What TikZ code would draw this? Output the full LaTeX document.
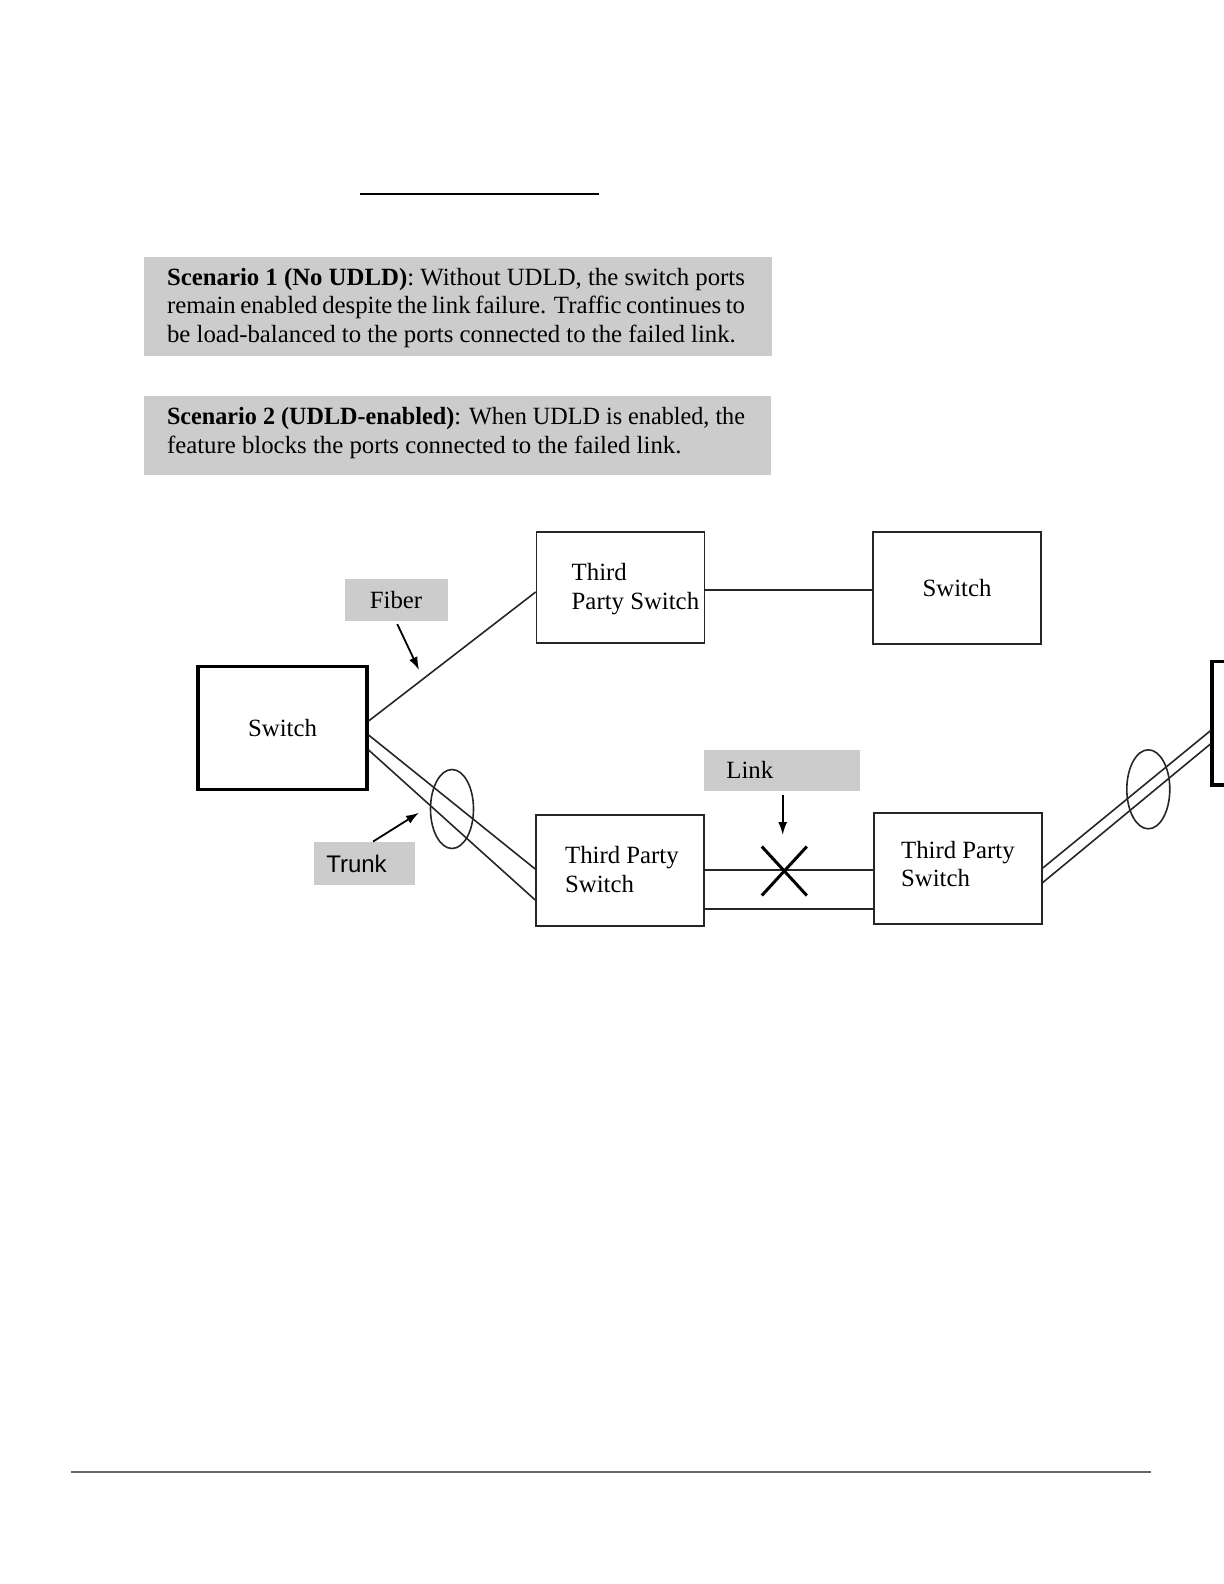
\documentclass[tikz,border=0pt]{standalone}
\usepackage{fontspec}
\setmainfont{Liberation Serif}
\newfontfamily\tagsans{Liberation Sans}
\usepackage{graphicx}
\usepackage{tikz}
\usetikzlibrary{arrows.meta}
\usetikzlibrary{calc}
\usetikzlibrary{shapes.geometric}

\begin{document}
\begin{tikzpicture}[x=0.5pt,y=-0.5pt,
		box/.style={draw=black!85,line width=0.8pt,inner sep=0pt,minimum width=84pt,minimum height=55.5pt},
		mainbox/.style={box,draw=black,line width=1.6pt,minimum width=84.5pt,minimum height=61.75pt},
		tag/.style={fill=black!20,inner sep=0pt},
		txt/.style={font=\fontsize{12.4}{14.2}\selectfont,inner sep=0pt,align=left},
		wire/.style={draw=black!85,line width=0.8pt},
		bundle/.style={ellipse,draw=black!85,line width=0.8pt,inner sep=0pt,minimum width=21.5pt,minimum height=39.5pt},
		pointer/.style={-{Latex[length=6.5pt,width=4.5pt]},line width=0.9pt}]
			\clip (0,0) rectangle (1224,1584);
			
			% header and footer rules
			\draw[line width=0.6pt] (360,194) -- (599,194);
			\draw[black!60,line width=1pt] (71,1471.5) -- (1151,1471.5);
			
			% scenario boxes
			\node[tag,anchor=north west,minimum width=314pt,minimum height=49.5pt] (sc1) at (144,256.5) {};
			\node[txt,anchor=west,text width=289pt,align=justify] (sc1txt) at (166.6,308)
			{\textbf{Scenario 1 (No UDLD)}: Without UDLD, the switch ports\linebreak
				remain enabled despite the link failure. Traffic continues to\linebreak
				be load-balanced to the ports connected to the failed link.};
			\node[tag,anchor=north west,minimum width=313.5pt,minimum height=39.5pt] (sc2) at (144,396) {};
			\node[txt,anchor=west] (sc2txt) at (166.6,433)
			{\resizebox{289pt}{\height}{\textbf{Scenario 2 (UDLD-enabled)}: When UDLD is enabled, the}\\
				feature blocks the ports connected to the failed link.};
			
			% switches
			\node[mainbox,font=\fontsize{12.4}{14.2}\selectfont] (sw) at (282.5,728) {Switch};
			\node[box] (tpa) at (620.5,587.5) {};
			\node[txt,anchor=west] (tpatxt) at ($(tpa.west)+(35.6,1.5)$) {Third\\Party Switch};
			\node[box,font=\fontsize{12.4}{14.2}\selectfont,minimum height=56pt] (swb) at (957,588) {Switch};
			\node[box] (tpb) at (620,870.5) {};
			\node[txt,anchor=west] (tpbtxt) at ($(tpb.west)+(29.5,-1)$) {Third Party\\Switch};
			\node[box] (tpc) at (958,868.5) {};
			\node[txt,anchor=west] (tpctxt) at ($(tpc.west)+(27.5,-4.5)$) {Third Party\\Switch};
			\node[mainbox] (swr) at (1296.5,723.25) {};
			
			% links
			\draw[wire] ($(sw.east)+(0,-7)$) -- ($(tpa.west)+(0,4.5)$);
			\draw[wire] ($(tpa.east)+(0,2.5)$) -- ($(swb.west)+(0,2)$);
			\draw[wire] ($(sw.east)+(0,7)$) -- ($(tpb.west)+(0,-1.5)$);
			\draw[wire] ($(sw.east)+(0,22)$) -- ($(tpb.west)+(0,29.5)$);
			\draw[wire] ($(tpb.east)+(0,-0.5)$) -- ($(tpc.west)+(0,1.5)$);
			\draw[wire] ($(tpb.east)+(0,38.5)$) -- ($(tpc.west)+(0,40.5)$);
			\draw[wire] ($(tpc.east)+(0,-0.5)$) -- ($(swr.west)+(0,7.5)$);
			\draw[wire] ($(tpc.east)+(0,14)$) -- ($(swr.west)+(0,20.75)$);
			
			% trunk bundles
			\node[bundle] (bunA) at (452,809) {};
			\node[bundle] (bunB) at (1148.3,789.3) {};
			
			% failed link
			\coordinate (cut) at (784.3,870.5);
			\draw[line width=1.5pt] ($(cut)+(-22.5,-24)$) -- ($(cut)+(22.5,25)$);
			\draw[line width=1.5pt] ($(cut)+(22.5,-24)$) -- ($(cut)+(-22.5,25)$);
			
			% labels
			\node[tag,minimum width=51.5pt,minimum height=21.25pt,font=\fontsize{12.4}{14.2}\selectfont] (fib) at (396,599.75) {Fiber};
			\node[tag,minimum width=50.5pt,minimum height=21.5pt,font=\tagsans\fontsize{12}{14}\selectfont] (trk) at (364.5,863.5) {\hspace*{-8pt}Trunk};
			\node[tag,anchor=north west,minimum width=77.75pt,minimum height=20.75pt] (lnk) at (704,749.5) {};
			\node[txt,anchor=west] (lnktxt) at (726,770) {Link};
			
			% pointers
			\coordinate (fibtip) at (419,670);
			\coordinate (trktip) at (419,812.7);
			\coordinate (lnktip) at (782.7,835);
			\draw[pointer,shorten <=1.5pt] (fib.south) -- (fibtip);
			\draw[pointer] ($(trk.north)+(8.5,0)$) -- (trktip);
			\draw[pointer,shorten <=1.5pt] (lnk.south -| lnktip) -- (lnktip);
		\end{tikzpicture}
\end{document}
